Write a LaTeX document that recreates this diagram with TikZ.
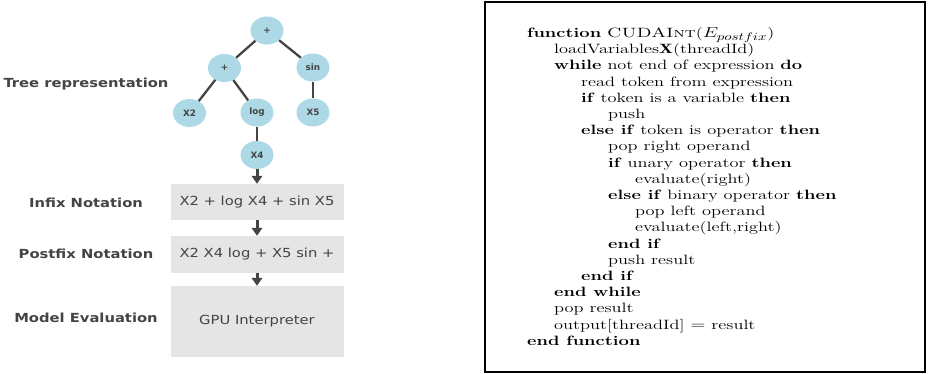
\documentclass[tikz,border=0pt]{standalone}
\usepackage{fontspec}
\usepackage{graphicx}
\usetikzlibrary{shapes.geometric,arrows.meta}
\newfontfamily\dejavu{DejaVu Sans}
\definecolor{nodeblue}{RGB}{173,216,230}
\definecolor{boxgray}{RGB}{229,229,229}
\definecolor{txtgray}{RGB}{68,68,68}
\definecolor{edgegray}{RGB}{68,68,68}
\newcommand\xstretch[1]{\scalebox{1.18}[1]{#1}}
\newlength\algstep
\setlength\algstep{19.85pt}
\begin{document}
\begin{tikzpicture}[x=1pt,y=-1pt,
  tnode/.style={ellipse, fill=nodeblue, minimum width=33pt, minimum height=28pt, inner sep=0pt,
    font=\dejavu\bfseries\fontsize{8.8}{10}\selectfont, text=txtgray},
  tedge/.style={draw=edgegray, line width=2.3pt},
  stagebox/.style={rectangle, fill=boxgray, minimum width=173pt, inner sep=0pt,
    font=\dejavu\fontsize{12.5}{14}\selectfont, text=txtgray},
  stagelabel/.style={font=\dejavu\bfseries\fontsize{12.5}{14}\selectfont, text=txtgray, inner sep=0pt},
  flowarrow/.style={draw=edgegray, line width=3pt, -{Triangle[width=10.5pt,length=8pt]}},
]
\useasboundingbox (0,0) rectangle (928,373);

% tree
\node[tnode] (p1) at (267,30.5) {+};
\node[tnode] (p2) at (224.5,68) {+};
\node[tnode] (sin) at (313,67.5) {sin};
\node[tnode] (x2) at (189.5,113) {X2};
\node[tnode] (log) at (257,112.5) {log};
\node[tnode] (x5) at (313,112.5) {X5};
\node[tnode] (x4) at (257,155) {X4};
\draw[tedge] (p1) -- (p2);
\draw[tedge] (p1) -- (sin);
\draw[tedge] (p2) -- (x2);
\draw[tedge] (p2) -- (log);
\draw[tedge] (sin) -- (x5);
\draw[tedge] (log) -- (x4);

% stage boxes
\node[stagebox, minimum height=36pt] (infix) at (257,202) {\xstretch{X2 + log X4 + sin X5}};
\node[stagebox, minimum height=37pt] (postfix) at (257,254.5) {\xstretch{X2 X4 log + X5 sin +}};
\node[stagebox, minimum height=71pt] (gpu) at (257,321.5) {\xstretch{GPU Interpreter}};
\draw[flowarrow] (x4) -- (infix);
\draw[flowarrow] (infix) -- (postfix);
\draw[flowarrow] (postfix) -- (gpu);

% labels
\node[stagelabel] (ltree) at (86,84) {\xstretch{Tree representation}};
\node[stagelabel] (linfix) at (86,202.5) {\xstretch{Infix Notation}};
\node[stagelabel] (lpost) at (86,254) {\xstretch{Postfix Notation}};
\node[stagelabel] (lmodel) at (86,317.5) {\xstretch{Model Evaluation}};

% algorithm frame
\draw[line width=2pt] (484.5,2) rectangle (925,371.5);
\node[anchor=base west, inner sep=0pt, font=\fontsize{13.5}{16.2}\selectfont] (algo) at (527,37.5)
{\scalebox{1.36}[1]{\begin{tabular}[t]{@{}l@{}}
\textbf{function} \textsc{CUDAInt}($E_{\hbox{\fontsize{11}{12}\selectfont$postfix$}}$)\\
\hspace*{1\algstep}loadVariables$\mathbf{X}$(threadId)\\
\hspace*{1\algstep}\textbf{while} not end of expression \textbf{do}\\
\hspace*{2\algstep}read token from expression\\
\hspace*{2\algstep}\textbf{if} token is a variable \textbf{then}\\
\hspace*{3\algstep}push\\
\hspace*{2\algstep}\textbf{else if} token is operator \textbf{then}\\
\hspace*{3\algstep}pop right operand\\
\hspace*{3\algstep}\textbf{if} unary operator \textbf{then}\\
\hspace*{4\algstep}evaluate(right)\\
\hspace*{3\algstep}\textbf{else if} binary operator \textbf{then}\\
\hspace*{4\algstep}pop left operand\\
\hspace*{4\algstep}evaluate(left,right)\\
\hspace*{3\algstep}\textbf{end if}\\
\hspace*{3\algstep}push result\\
\hspace*{2\algstep}\textbf{end if}\\
\hspace*{1\algstep}\textbf{end while}\\
\hspace*{1\algstep}pop result\\
\hspace*{1\algstep}output[threadId] $=$ result\\
\textbf{end function}
\end{tabular}}};
\end{tikzpicture}
\end{document}
